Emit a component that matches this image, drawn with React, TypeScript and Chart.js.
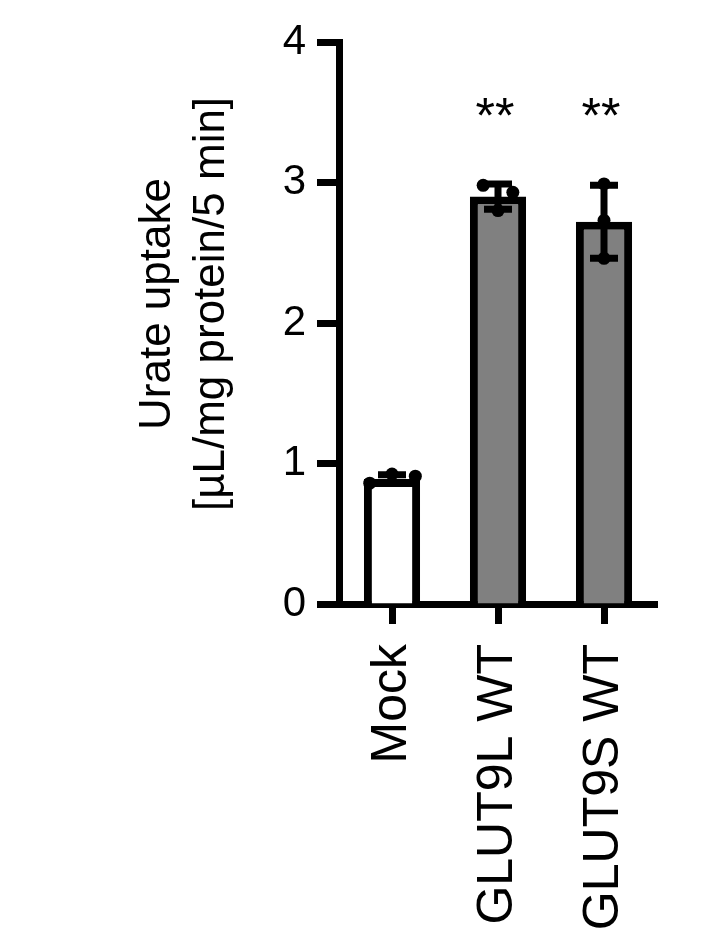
import { useEffect, useRef } from 'react'
import { Chart, registerables } from 'chart.js'
import type { Plugin } from 'chart.js'

Chart.register(...registerables)

// values
const groups = ['Mock', 'GLUT9L WT', 'GLUT9S WT']
const means = [0.89, 2.9, 2.72]
const sds = [0.03, 0.09, 0.26]
const replicates = [
  [0.86, 0.925, 0.91],
  [2.98, 2.8, 2.93],
  [2.99, 2.73, 2.46],
]
// horizontal spread of the replicate dots, as a fraction of one category
const spread = [
  [-0.21, 0, 0.22],
  [-0.14, 0, 0.14],
  [0, 0, 0],
]
const sigLabels = ['', '**', '**']
const sigLevel = 3.45
const yTicks = [0, 1, 2, 3, 4]
const yTitle = ['Urate uptake', '[µL/mg protein/5 min]']

const FONT = "'Liberation Sans', Arial, Helvetica, sans-serif"
const barFills = ['#ffffff', '#808080', '#808080']

const overlay: Plugin<'bar'> = {
  id: 'overlay',
  afterDatasetsDraw(chart) {
    const { ctx } = chart
    const x = chart.scales.x
    const y = chart.scales.y
    ctx.save()
    ctx.strokeStyle = '#000'
    ctx.lineWidth = 7
    ctx.lineCap = 'butt'
    means.forEach((m, i) => {
      const cx = x.getPixelForValue(i)
      const top = y.getPixelForValue(m + sds[i])
      const bot = y.getPixelForValue(m - sds[i])
      ctx.beginPath()
      ctx.moveTo(cx, top)
      ctx.lineTo(cx, bot)
      ctx.moveTo(cx - 14, top)
      ctx.lineTo(cx + 14, top)
      ctx.moveTo(cx - 14, bot)
      ctx.lineTo(cx + 14, bot)
      ctx.stroke()
    })
    ctx.restore()
  },
  afterDraw(chart) {
    const { ctx, chartArea } = chart
    const x = chart.scales.x
    const y = chart.scales.y
    ctx.save()
    ctx.fillStyle = '#000'
    ctx.font = `50px ${FONT}`
    ctx.textAlign = 'center'
    ctx.textBaseline = 'middle'
    sigLabels.forEach((s, i) => {
      if (!s) return
      ctx.fillText(s, x.getPixelForValue(i) - 3, y.getPixelForValue(sigLevel))
    })
    // y-axis title, two lines, rotated
    ctx.font = `44px ${FONT}`
    ctx.translate(158, (chartArea.top + chartArea.bottom) / 2 - 19)
    ctx.rotate(-Math.PI / 2)
    yTitle.forEach((line, i) => ctx.fillText(line, 0, i * 54))
    ctx.restore()
  },
}

export default function App() {
  const canvasRef = useRef<HTMLCanvasElement>(null)

  useEffect(() => {
    if (!canvasRef.current) return
    const chart = new Chart(canvasRef.current, {
      type: 'bar',
      data: {
        labels: groups,
        datasets: [
          {
            type: 'bar',
            data: means,
            backgroundColor: barFills,
            borderColor: '#000',
            borderWidth: 8,
            grouped: false,
            categoryPercentage: 1,
            barPercentage: 0.53,
            order: 2,
          },
          {
            type: 'scatter' as any,
            xAxisID: 'pts',
            data: replicates.flatMap((vals, i) =>
              vals.map((v, j) => ({ x: i + spread[i][j], y: v })),
            ) as any,
            pointRadius: 6.5,
            pointBackgroundColor: '#000',
            pointBorderWidth: 0,
            order: 1,
          },
        ],
      },
      options: {
        responsive: true,
        maintainAspectRatio: false,
        animation: false,
        layout: { padding: { top: 42, right: 54, left: 0, bottom: 0 } },
        plugins: { legend: { display: false }, tooltip: { enabled: false } },
        scales: {
          x: {
            type: 'category',
            offset: true,
            grid: {
              offset: false,
              drawOnChartArea: false,
              tickLength: 20,
              tickWidth: 7,
              tickColor: '#000',
            },
            border: { display: true, width: 7, color: '#000' },
            ticks: {
              autoSkip: false,
              minRotation: 90,
              maxRotation: 90,
              padding: 20,
              color: '#000',
              font: { family: FONT, size: 50 },
            },
            afterFit: (scale) => {
              scale.height = 325
            },
          },
          pts: {
            type: 'linear',
            display: false,
            offset: false,
            min: -0.5,
            max: 2.5,
          },
          y: {
            min: yTicks[0],
            max: yTicks[yTicks.length - 1],
            grid: {
              drawOnChartArea: false,
              tickLength: 22,
              tickWidth: 7,
              tickColor: '#000',
            },
            border: { display: true, width: 7, color: '#000' },
            ticks: {
              stepSize: 1,
              padding: 11,
              color: '#000',
              font: { family: FONT, size: 42 },
            },
            afterFit: (scale) => {
              scale.width = 339
            },
          },
        },
      },
      plugins: [overlay],
    })
    return () => chart.destroy()
  }, [])

  return (
    <div style={{ position: 'absolute', left: 0, top: 0, width: 711, height: 929, background: '#fff' }}>
      <canvas ref={canvasRef} role="img" aria-label="Urate uptake bar chart" />
    </div>
  )
}
